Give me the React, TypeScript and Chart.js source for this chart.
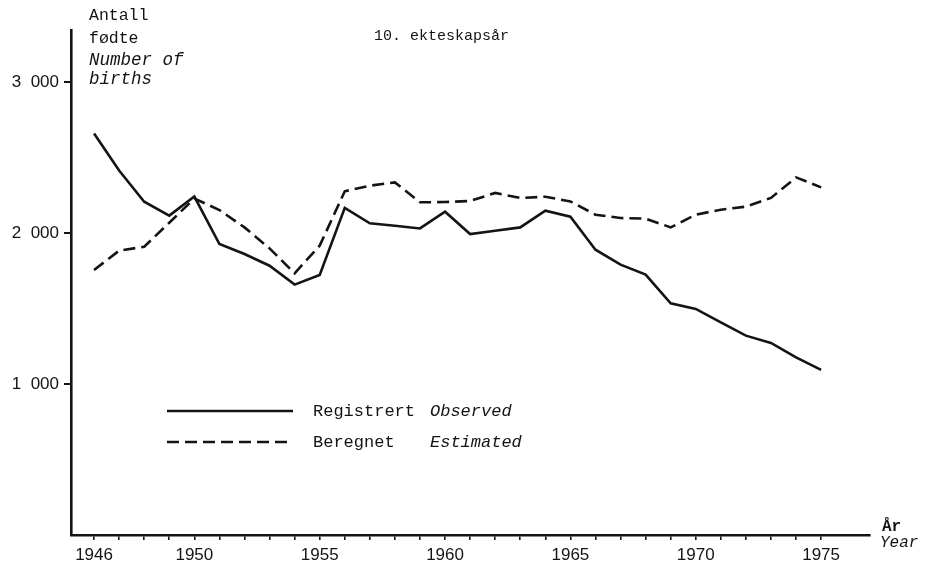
import React, { useEffect, useRef } from "react";
import { Chart, registerables } from "chart.js";

Chart.register(...registerables);

const years = [
  1946, 1947, 1948, 1949, 1950, 1951, 1952, 1953, 1954, 1955,
  1956, 1957, 1958, 1959, 1960, 1961, 1962, 1963, 1964, 1965,
  1966, 1967, 1968, 1969, 1970, 1971, 1972, 1973, 1974, 1975,
];

const observed = [
  2658, 2413, 2207, 2115, 2241, 1927, 1861, 1783, 1658, 1722,
  2166, 2064, 2048, 2030, 2141, 1993, 2015, 2037, 2148, 2108,
  1889, 1790, 1724, 1534, 1497, 1408, 1320, 1272, 1176, 1093,
];

const estimated = [
  1755, 1883, 1909, 2068, 2228, 2152, 2037, 1898, 1733, 1916,
  2276, 2313, 2335, 2203, 2205, 2212, 2265, 2232, 2240, 2209,
  2121, 2099, 2095, 2037, 2121, 2154, 2174, 2232, 2368, 2302,
];

const xLabelYears = [1946, 1950, 1955, 1960, 1965, 1970, 1975];
const yTickValues = [1000, 2000, 3000];
const yTickLabels = ["1\u2007000", "2\u2007000", "3\u2007000"];

const seriesNo = ["Registrert", "Beregnet"];
const seriesEn = ["Observed", "Estimated"];

const INK = "#141414";
const MONO = "'Liberation Mono', 'DejaVu Sans Mono', monospace";
const SANS = "'Liberation Sans', Arial, sans-serif";

const textPlugin = {
  id: "textPlugin",
  afterDraw(chart: any) {
    const ctx = chart.ctx as CanvasRenderingContext2D;
    const area = chart.chartArea;
    ctx.save();
    ctx.fillStyle = INK;
    ctx.textBaseline = "alphabetic";
    ctx.textAlign = "left";

    // y-axis title
    const tx = area.left + 18;
    ctx.font = `16.5px ${MONO}`;
    ctx.fillText("Antall", tx, 20);
    ctx.fillText("f\u00f8dte", tx, 43);
    ctx.font = `italic 17.5px ${MONO}`;
    ctx.fillText("Number of", tx, 65);
    ctx.fillText("births", tx, 84);

    // chart title
    ctx.font = `15px ${MONO}`;
    ctx.fillText("10. ekteskaps\u00e5r", 374, 40);

    // x-axis title
    ctx.font = `bold 16px ${MONO}`;
    ctx.fillText("\u00c5r", area.right + 12, 531);
    ctx.font = `italic 16px ${MONO}`;
    ctx.fillText("Year", area.right + 10, 547);

    // legend
    const lx0 = 167;
    const lx1 = 293;
    const rows = [411, 442];
    chart.data.datasets.forEach((ds: any, i: number) => {
      const y = rows[i];
      ctx.beginPath();
      ctx.strokeStyle = ds.borderColor;
      ctx.lineWidth = ds.borderWidth;
      ctx.setLineDash(ds.borderDash || []);
      ctx.moveTo(lx0, y);
      ctx.lineTo(lx1, y);
      ctx.stroke();
      ctx.setLineDash([]);
      ctx.font = `17px ${MONO}`;
      ctx.fillText(seriesNo[i], 313, y + 5);
      ctx.font = `italic 17px ${MONO}`;
      ctx.fillText(seriesEn[i], 430, y + 5);
    });
    ctx.restore();
  },
};

export default function App() {
  const ref = useRef<HTMLCanvasElement>(null);

  useEffect(() => {
    if (!ref.current) return;
    const chart = new Chart(ref.current, {
      type: "line",
      data: {
        datasets: [
          {
            label: seriesNo[0] + " " + seriesEn[0],
            data: years.map((x, i) => ({ x, y: observed[i] })),
            borderColor: INK,
            borderWidth: 2.6,
            borderDash: [],
            pointRadius: 0,
            tension: 0,
            fill: false,
          },
          {
            label: seriesNo[1] + " " + seriesEn[1],
            data: years.map((x, i) => ({ x, y: estimated[i] })),
            borderColor: INK,
            borderWidth: 2.6,
            borderDash: [12, 6],
            pointRadius: 0,
            tension: 0,
            fill: false,
          },
        ],
      },
      options: {
        responsive: false,
        animation: false,
        layout: { padding: { top: 30, right: 64, left: 0, bottom: 0 } },
        plugins: {
          legend: { display: false },
          tooltip: { enabled: false },
          title: { display: false },
        },
        scales: {
          x: {
            type: "linear",
            min: 1945.08,
            max: 1976.95,
            afterFit: (s: any) => {
              s.height = 35;
            },
            afterBuildTicks: (s: any) => {
              s.ticks = years.map((v) => ({ value: v }));
            },
            ticks: {
              autoSkip: false,
              maxRotation: 0,
              minRotation: 0,
              padding: 5,
              color: INK,
              font: { family: SANS, size: 17 },
              callback: (v: any) => (xLabelYears.includes(Number(v)) ? String(v) : ""),
            },
            grid: {
              drawOnChartArea: false,
              drawTicks: true,
              tickLength: 5,
              color: INK,
              lineWidth: 1.6,
            },
            border: { display: true, color: INK, width: 2.6 },
          },
          y: {
            type: "linear",
            min: 0,
            max: 3344,
            afterFit: (s: any) => {
              s.width = 71;
            },
            afterBuildTicks: (s: any) => {
              s.ticks = yTickValues.map((v) => ({ value: v }));
            },
            ticks: {
              padding: 5,
              color: INK,
              font: { family: SANS, size: 17 },
              callback: (v: any) => {
                const idx = yTickValues.indexOf(Number(v));
                return idx >= 0 ? yTickLabels[idx] : "";
              },
            },
            grid: {
              drawOnChartArea: false,
              drawTicks: true,
              tickLength: 7,
              color: INK,
              lineWidth: 2,
            },
            border: { display: true, color: INK, width: 2.6 },
          },
        },
      },
      plugins: [textPlugin],
    });
    return () => chart.destroy();
  }, []);

  return (
    <div style={{ position: "absolute", left: 0, top: 0, width: 934, height: 570, background: "#fff" }}>
      <canvas ref={ref} width={934} height={570} />
    </div>
  );
}
